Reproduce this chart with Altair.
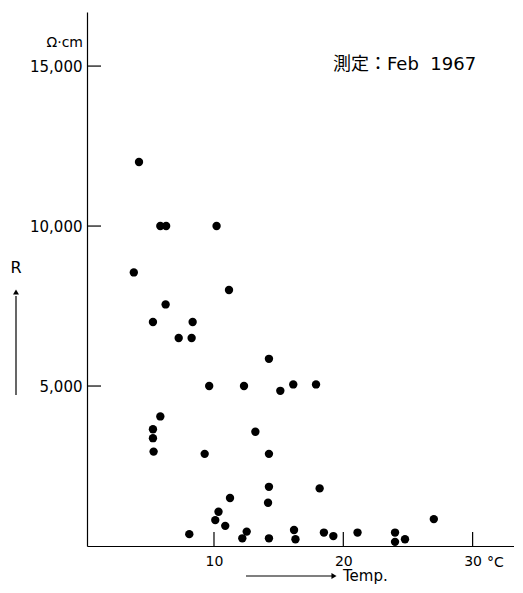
import altair as alt
import pandas as pd

# Data
temp = [4.2, 5.85, 6.3, 10.2, 3.8, 11.16, 6.26, 5.28, 8.35, 7.27, 8.27, 9.63, 12.32,
        14.25, 15.13, 16.13, 17.89, 5.85, 5.28, 5.28, 5.33, 9.28, 13.2, 14.25, 14.25,
        18.17, 11.24, 14.18, 10.35, 10.1, 10.87, 8.09, 12.53, 12.19, 14.25, 16.19,
        16.3, 18.5, 19.23, 21.1, 24.0, 24.0, 24.77, 27.0]
resist = [12000, 10000, 10000, 10000, 8550, 8000, 7550, 7000, 7000, 6500, 6500, 5000,
          5000, 5850, 4850, 5050, 5050, 4050, 3650, 3370, 2950, 2880, 3570, 2880, 1850,
          1800, 1500, 1350, 1070, 810, 630, 370, 450, 240, 240, 500, 210, 420, 310,
          420, 420, 130, 210, 840]
x_ticks = [10, 20, 30]
y_ticks = [5000, 10000, 15000]

W, H = 427, 534
FONT = "DejaVu Sans"
df = pd.DataFrame({"temp": temp, "r": resist})

xscale = alt.Scale(domain=[0.18, 33.2], nice=False, zero=False)
yscale = alt.Scale(domain=[0, 16690], nice=False)

xaxis = alt.Axis(values=x_ticks, ticks=False, grid=False, domainColor="black",
                 domainWidth=1.2, labelFont=FONT, labelFontSize=14, labelColor="black",
                 labelPadding=8, title=None)
yaxis = alt.Axis(values=y_ticks, format=",.0f", ticks=False, grid=False, domainColor="black",
                 domainWidth=1.2, labelFont=FONT, labelFontSize=15, labelColor="black",
                 labelPadding=5, title=None)

points = alt.Chart(df).mark_circle(size=70, color="black", opacity=1).encode(
    x=alt.X("temp:Q", scale=xscale, axis=xaxis),
    y=alt.Y("r:Q", scale=yscale, axis=yaxis),
)

xt = alt.Chart(pd.DataFrame({"v": x_ticks})).mark_rule(color="black", strokeWidth=1.2).encode(
    x=alt.X("v:Q", scale=xscale), y=alt.value(H - 14), y2=alt.value(H)
)
yt = alt.Chart(pd.DataFrame({"v": y_ticks})).mark_rule(color="black", strokeWidth=1.2).encode(
    y=alt.Y("v:Q", scale=yscale), x=alt.value(0), x2=alt.value(14)
)

one = pd.DataFrame({"a": [0]})

def txt(s, x, y, size=15, align="left", font=FONT):
    return alt.Chart(one).mark_text(text=s, font=font, fontSize=size, align=align,
                                    baseline="middle", color="black").encode(
        x=alt.value(x), y=alt.value(y))

r_arrow = alt.Chart(one).mark_rule(color="black", strokeWidth=1.2).encode(
    x=alt.value(-71), y=alt.value(284), y2=alt.value(383))
r_head = alt.Chart(one).mark_point(shape="triangle-up", filled=True, size=35,
                                   color="black", opacity=1).encode(
    x=alt.value(-71), y=alt.value(280))
t_arrow = alt.Chart(one).mark_rule(color="black", strokeWidth=1.2).encode(
    x=alt.value(159), x2=alt.value(246), y=alt.value(564))
t_head = alt.Chart(one).mark_point(shape="triangle-right", filled=True, size=35,
                                   color="black", opacity=1).encode(
    x=alt.value(247), y=alt.value(564))

chart = alt.layer(
    points, xt, yt,
    txt("R", -71, 256, size=16, align="center"),
    r_arrow, r_head,
    txt("Ω·cm", -4, 31, size=14, align="right"),
    txt("測定：Feb\u00a0\u00a01967", 246, 53, size=18, font="DejaVu Sans, Noto Sans CJK JP"),
    t_arrow, t_head,
    txt("Temp.", 256, 564, size=15),
    txt("°C", 400, 551, size=14),
).properties(
    width=W, height=H,
    autosize=alt.AutoSizeParams(type="none"),
    padding={"left": 79, "top": 4, "right": 0, "bottom": 40},
).configure_view(stroke=None)

chart.save("out.html", embed_options={"renderer": "svg", "actions": False})
